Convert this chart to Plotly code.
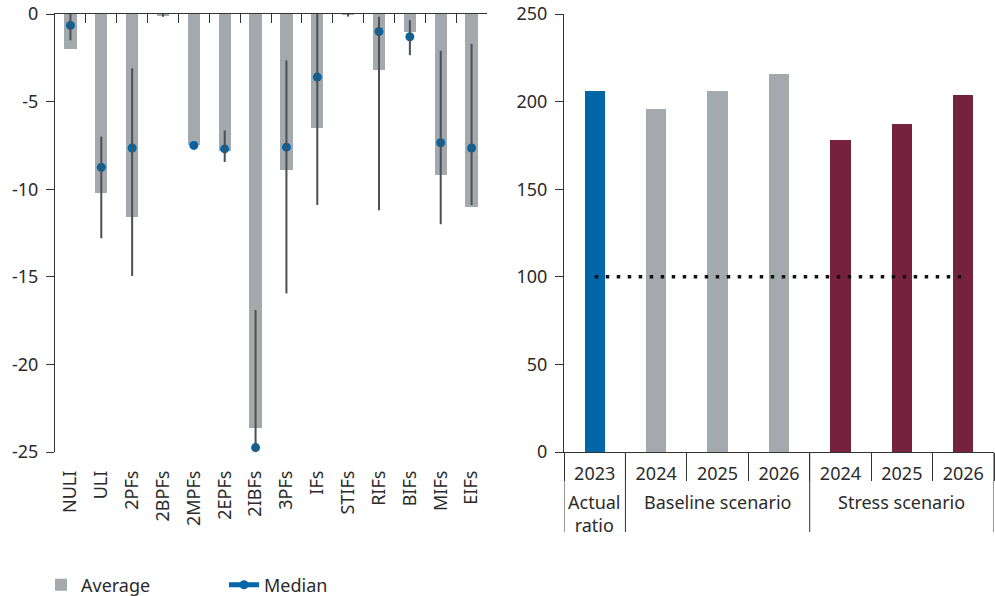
import plotly.graph_objects as go

# ---- Left panel: change by institution type ----
institutions = ["NULI", "ULI", "2PFs", "2BPFs", "2MPFs", "2EPFs", "2IBFs",
                "3PFs", "IFs", "STIFs", "RIFs", "BIFs", "MIFs", "EIFs"]
average = [-2.0, -10.2, -11.6, -0.1, -7.45, -7.8, -23.65,
           -8.9, -6.5, -0.05, -3.2, -1.0, -9.2, -11.0]
median = [-0.65, -8.75, -7.65, None, -7.5, -7.7, -24.75,
          -7.6, -3.6, None, -1.0, -1.3, -7.35, -7.65]
range_high = [0.0, -7.0, -3.1, 0.25, -7.45, -6.65, -16.9,
              -2.65, 0.0, 0.15, -0.15, -0.35, -2.1, -1.7]
range_low = [-1.5, -12.8, -14.95, -0.15, -7.6, -8.45, -25.15,
             -15.95, -10.9, -0.15, -11.2, -2.35, -12.0, -10.9]
left_ticks = [0, -5, -10, -15, -20, -25]

# ---- Right panel: ratio by scenario ----
ratio_groups = ["Actual<br>ratio", "Baseline scenario", "Stress scenario"]
ratio_years = [["2023"], ["2024", "2025", "2026"], ["2024", "2025", "2026"]]
ratio_values = [[206.3], [196.0, 206.3, 216.0], [177.8, 187.3, 204.0]]
threshold = 100
right_ticks = [0, 50, 100, 150, 200, 250]

GREY = "#a3a9ac"
BLUE = "#0066a8"
MAROON = "#76223f"
DARK = "#4a5053"
AXIS = "#333333"
TEXT = "#2b2b2b"
FONT = "Noto Sans"
FS = 18

W, H = 995, 596
M_T, M_B = 14, 144
PLOT_H = H - M_T - M_B

fig = go.Figure()

# Average bars
fig.add_trace(go.Bar(
    x=institutions, y=average, name="Average", width=0.4,
    marker=dict(color=GREY, line=dict(width=0)),
    xaxis="x", yaxis="y",
))

# Min-max range lines, drawn as error bars hanging from the high value
fig.add_trace(go.Scatter(
    x=institutions, y=range_high, mode="markers",
    marker=dict(size=1, opacity=0),
    error_y=dict(type="data", symmetric=False,
                 array=[0] * len(institutions),
                 arrayminus=[h - l for h, l in zip(range_high, range_low)],
                 color=DARK, thickness=2, width=0),
    cliponaxis=False, showlegend=False, hoverinfo="skip",
    xaxis="x2", yaxis="y",
))

# Median markers (gaps between points so no connecting line is drawn)
med_x, med_y = [], []
for name, val in zip(institutions, median):
    med_x += [name, None]
    med_y += [val, None]
fig.add_trace(go.Scatter(
    x=med_x, y=med_y, name="Median", mode="lines+markers",
    line=dict(color=BLUE, width=5),
    marker=dict(color=BLUE, size=9, symbol="circle"),
    connectgaps=False, cliponaxis=False,
    xaxis="x", yaxis="y",
))

# Right panel bars
colors_by_group = [BLUE, GREY, MAROON]
r_keys, r_text, r_vals, r_cols = [], [], [], []
group_centers = []
boundaries = [-0.5]
idx = 0
for grp, years, vals, col in zip(ratio_groups, ratio_years, ratio_values, colors_by_group):
    start = idx
    for yr, v in zip(years, vals):
        r_keys.append(f"{grp} {yr}")
        r_text.append(yr)
        r_vals.append(v)
        r_cols.append(col)
        idx += 1
    group_centers.append((start + idx - 1) / 2)
    boundaries.append(idx - 0.5)

fig.add_trace(go.Bar(
    x=r_keys, y=r_vals, width=0.33,
    marker=dict(color=r_cols, line=dict(width=0)),
    showlegend=False, xaxis="x3", yaxis="y3",
))

# Threshold line
fig.add_trace(go.Scatter(
    x=[r_keys[0], r_keys[-1]], y=[threshold, threshold], mode="lines",
    line=dict(color="#111111", width=3.5, dash="3.5px,7.5px"),
    showlegend=False, hoverinfo="skip", xaxis="x3", yaxis="y3",
))

# Group dividers and group labels under the right x-axis
div_len = 80 / PLOT_H
for b in boundaries:
    fig.add_shape(type="line", xref="x3", yref="paper",
                  x0=b, x1=b, y0=0, y1=-div_len,
                  line=dict(color=AXIS, width=1))
for grp, cx in zip(ratio_groups, group_centers):
    fig.add_annotation(x=cx, xref="x3", y=-36 / PLOT_H, yref="paper",
                       text=grp, showarrow=False, yanchor="top",
                       xanchor="center", align="center",
                       font=dict(family=FONT, size=FS, color=TEXT))

tick_font = dict(family=FONT, size=FS, color=TEXT)

fig.update_layout(
    width=W, height=H,
    margin=dict(l=0, r=0, t=M_T, b=M_B, autoexpand=False),
    paper_bgcolor="white", plot_bgcolor="white",
    font=dict(family=FONT, size=FS, color=TEXT),
    bargap=0,
    showlegend=True,
    legend=dict(orientation="h", x=41 / W, y=-(585 - (H - M_B)) / PLOT_H,
                xanchor="left", yanchor="middle",
                entrywidth=138, entrywidthmode="pixels",
                font=dict(family=FONT, size=FS, color=TEXT),
                bgcolor="rgba(0,0,0,0)", borderwidth=0),
    xaxis=dict(domain=[55 / W, 487 / W], anchor="y", type="category",
               categoryorder="array", categoryarray=institutions,
               range=[-0.5, len(institutions) - 0.5], autorange=False,
               showline=False, ticks="", showgrid=False, zeroline=False,
               tickangle=-90, tickfont=tick_font, ticklabelstandoff=14),
    xaxis2=dict(overlaying="x", side="top", anchor="y", type="category",
                categoryorder="array", categoryarray=institutions,
                range=[-0.5, len(institutions) - 0.5], autorange=False,
                showline=True, linecolor=AXIS, linewidth=1,
                ticks="inside", tickson="boundaries", ticklen=9,
                tickcolor=AXIS, tickwidth=1, showticklabels=False,
                showgrid=False, zeroline=False),
    yaxis=dict(domain=[0, 1], anchor="x", range=[-25, 0],
               tickvals=left_ticks, ticktext=[str(v) for v in left_ticks],
               showline=True, linecolor=AXIS, linewidth=1,
               ticks="outside", ticklen=8, tickcolor=AXIS, tickwidth=1,
               showgrid=False, zeroline=False, tickfont=tick_font,
               ticklabelstandoff=4),
    xaxis3=dict(domain=[564 / W, 994 / W], anchor="y3", type="category",
                categoryorder="array", categoryarray=r_keys,
                range=[-0.5, len(r_keys) - 0.5], autorange=False,
                tickmode="array", tickvals=r_keys, ticktext=r_text,
                showline=True, linecolor=AXIS, linewidth=1,
                ticks="outside", tickson="boundaries", ticklen=28,
                tickcolor=AXIS, tickwidth=1, ticklabelstandoff=5,
                showgrid=False, zeroline=False, tickfont=tick_font),
    yaxis3=dict(domain=[0, 1], anchor="x3", range=[0, 250],
                tickvals=right_ticks,
                showline=True, linecolor=AXIS, linewidth=1,
                ticks="outside", ticklen=8, tickcolor=AXIS, tickwidth=1,
                showgrid=False, zeroline=False, tickfont=tick_font,
                ticklabelstandoff=4),
)

fig.write_html("out.html")
